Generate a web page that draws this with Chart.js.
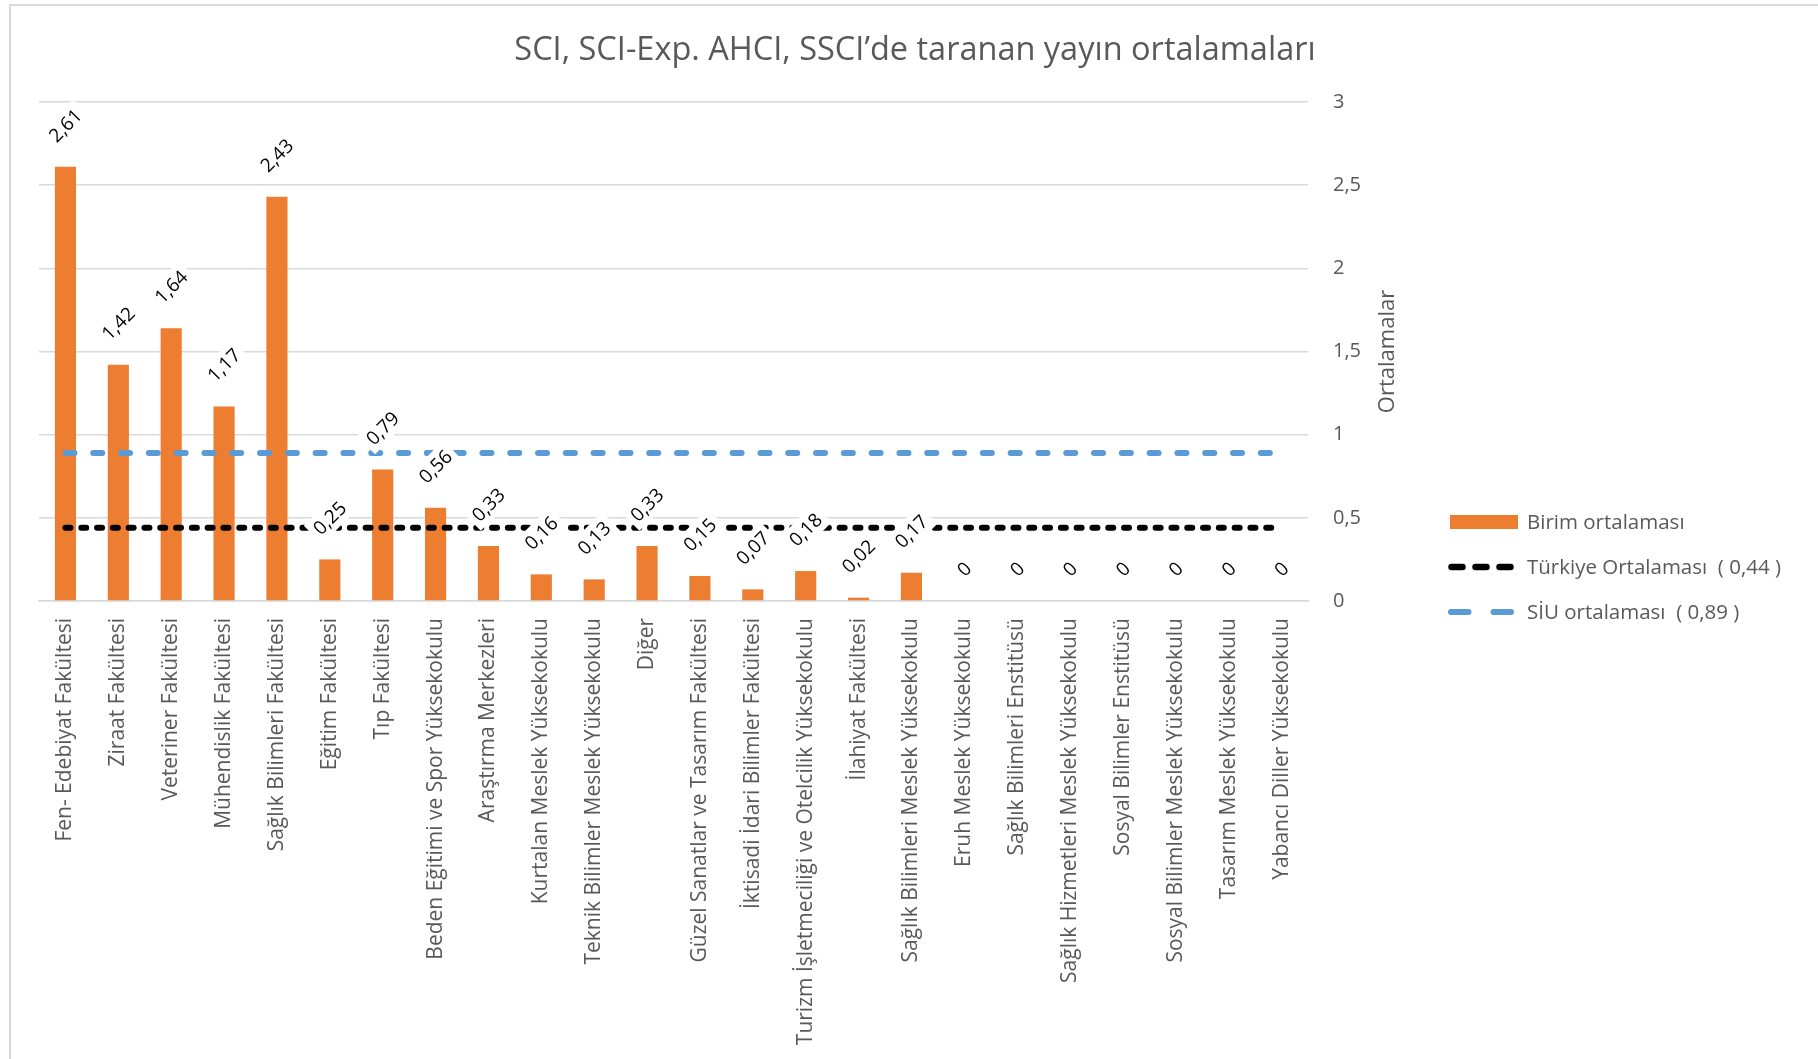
<!DOCTYPE html>
<html lang="tr">
<head>
<meta charset="utf-8">
<title>SCI, SCI-Exp. AHCI, SSCI’de taranan yayın ortalamaları</title>
<script src="https://cdn.jsdelivr.net/npm/chart.js@4.4.1/dist/chart.umd.min.js"></script>
<style>
  html, body { margin: 0; padding: 0; background: #fff; }
  #wrap { width: 1818px; height: 1059px; }
</style>
</head>
<body>
<div id="wrap"><canvas id="chart" width="1818" height="1059"></canvas></div>
<script>
const chartTitle = "SCI, SCI-Exp. AHCI, SSCI’de taranan yayın ortalamaları";
const axisTitle = "Ortalamalar";

const units = [
  "Fen- Edebiyat Fakültesi", "Ziraat Fakültesi", "Veteriner Fakültesi",
  "Mühendislik Fakültesi", "Sağlık Bilimleri Fakültesi", "Eğitim Fakültesi",
  "Tıp Fakültesi", "Beden Eğitimi ve Spor Yüksekokulu", "Araştırma Merkezleri",
  "Kurtalan Meslek Yüksekokulu", "Teknik Bilimler Meslek Yüksekokulu", "Diğer",
  "Güzel Sanatlar ve Tasarım Fakültesi", "İktisadi İdari Bilimler Fakültesi",
  "Turizm İşletmeciliği ve Otelcilik Yüksekokulu", "İlahiyat Fakültesi",
  "Sağlık Bilimleri Meslek Yüksekokulu", "Eruh Meslek Yüksekokulu",
  "Sağlık Bilimleri Enstitüsü", "Sağlık Hizmetleri Meslek Yüksekokulu",
  "Sosyal Bilimler Enstitüsü", "Sosyal Bilimler Meslek Yüksekokulu",
  "Tasarım Meslek Yüksekokulu", "Yabancı Diller Yüksekokulu"
];
const unitAverages = [2.61, 1.42, 1.64, 1.17, 2.43, 0.25, 0.79, 0.56, 0.33, 0.16, 0.13, 0.33,
  0.15, 0.07, 0.18, 0.02, 0.17, 0, 0, 0, 0, 0, 0, 0];
const turkeyAverage = [0.44, 0.44, 0.44, 0.44, 0.44, 0.44, 0.44, 0.44, 0.44, 0.44, 0.44, 0.44,
  0.44, 0.44, 0.44, 0.44, 0.44, 0.44, 0.44, 0.44, 0.44, 0.44, 0.44, 0.44];
const siuAverage = [0.89, 0.89, 0.89, 0.89, 0.89, 0.89, 0.89, 0.89, 0.89, 0.89, 0.89, 0.89,
  0.89, 0.89, 0.89, 0.89, 0.89, 0.89, 0.89, 0.89, 0.89, 0.89, 0.89, 0.89];
const yTicks = [0, 0.5, 1, 1.5, 2, 2.5, 3];
const seriesNames = ["Birim ortalaması", "Türkiye Ortalaması  ( 0,44 )", "SİU ortalaması  ( 0,89 )"];

const FONT = '"Open Sans", sans-serif';
const GREY = "#595959";
const ORANGE = "#ED7D31";
const BLUE = "#5B9BD5";

const fmt = v => String(v).replace(".", ",");

// title, frame, axis title, value labels and legend drawn on the canvas
const decor = {
  id: "decor",
  beforeDraw(chart) {
    const ctx = chart.ctx;
    ctx.save();
    ctx.strokeStyle = "#d9d9d9";
    ctx.lineWidth = 2;
    ctx.strokeRect(10, 5, 1830, 1080);
    ctx.restore();
  },
  afterDatasetsDraw(chart) {
    const ctx = chart.ctx;
    const meta = chart.getDatasetMeta(0);
    ctx.save();
    ctx.font = "19px " + FONT;
    meta.data.forEach((bar, i) => {
      const txt = fmt(unitAverages[i]);
      const w = ctx.measureText(txt).width;
      const cy = bar.y - (28 + w / 2 * 0.707);
      ctx.save();
      ctx.translate(bar.x, cy);
      ctx.rotate(-Math.PI / 4);
      ctx.fillStyle = "#fff";
      ctx.fillRect(-w / 2 - 5, -13, w + 10, 26);
      ctx.fillStyle = "#000";
      ctx.textAlign = "center";
      ctx.textBaseline = "middle";
      ctx.fillText(txt, 0, 1);
      ctx.restore();
    });
    ctx.restore();
  },
  afterDraw(chart) {
    const ctx = chart.ctx;
    ctx.save();
    ctx.fillStyle = GREY;
    ctx.textBaseline = "middle";

    ctx.font = "32.5px " + FONT;
    ctx.textAlign = "center";
    ctx.fillText(chartTitle, 915, 51);

    ctx.save();
    ctx.translate(1388, (chart.chartArea.top + chart.chartArea.bottom) / 2);
    ctx.rotate(-Math.PI / 2);
    ctx.font = "22px " + FONT;
    ctx.fillText(axisTitle, 0, 0);
    ctx.restore();

    // legend
    ctx.textAlign = "left";
    ctx.font = "20.5px " + FONT;
    const rows = [522, 567, 612];
    ctx.fillStyle = ORANGE;
    ctx.fillRect(1450, rows[0] - 7, 68, 14);
    ctx.lineCap = "round";
    ctx.lineWidth = 6.5;
    ctx.strokeStyle = "#000";
    ctx.setLineDash([11, 13]);
    ctx.beginPath(); ctx.moveTo(1451.5, rows[1]); ctx.lineTo(1512, rows[1]); ctx.stroke();
    ctx.strokeStyle = BLUE;
    ctx.lineWidth = 6;
    ctx.setLineDash([17.5, 25]);
    ctx.beginPath(); ctx.moveTo(1451, rows[2]); ctx.lineTo(1512, rows[2]); ctx.stroke();
    ctx.setLineDash([]);
    ctx.fillStyle = GREY;
    seriesNames.forEach((name, i) => ctx.fillText(name, 1527, rows[i] + 1));
    ctx.restore();
  }
};

function draw() {
  Chart.defaults.font.family = FONT;
  Chart.defaults.color = GREY;
  new Chart(document.getElementById("chart"), {
    type: "bar",
    data: {
      labels: units,
      datasets: [
        {
          type: "bar",
          label: seriesNames[0],
          data: unitAverages,
          backgroundColor: ORANGE,
          categoryPercentage: 1,
          barPercentage: 0.4,
          order: 3
        },
        {
          type: "line",
          label: seriesNames[1],
          data: turkeyAverage,
          borderColor: "#000",
          borderWidth: 6,
          borderDash: [5, 10.8],
          borderCapStyle: "round",
          pointRadius: 0,
          fill: false,
          order: 2
        },
        {
          type: "line",
          label: seriesNames[2],
          data: siuAverage,
          borderColor: BLUE,
          borderWidth: 6,
          borderDash: [9, 18.8],
          borderCapStyle: "round",
          pointRadius: 0,
          fill: false,
          order: 1
        }
      ]
    },
    options: {
      responsive: false,
      animation: false,
      layout: { padding: { left: 39, top: 102, right: 0, bottom: 0 } },
      plugins: {
        legend: { display: false },
        title: { display: false },
        tooltip: { enabled: false }
      },
      scales: {
        x: {
          grid: { display: false, drawTicks: false },
          border: { display: true, color: "#d9d9d9", width: 1.5 },
          ticks: {
            autoSkip: false, minRotation: 90, maxRotation: 90, padding: 17,
            font: { size: 21 }, color: GREY
          },
          afterFit: s => { s.height = 1059 - 601; }
        },
        y: {
          position: "right",
          min: 0,
          max: 3,
          grid: { color: "#d9d9d9", lineWidth: 1.5, drawTicks: false },
          border: { display: false },
          ticks: { padding: 25, font: { size: 20 }, color: GREY, callback: v => fmt(v) },
          afterBuildTicks: s => { s.ticks = yTicks.map(v => ({ value: v })); },
          afterFit: s => { s.width = 1818 - 1308; }
        }
      }
    },
    plugins: [decor]
  });
}

document.fonts.load('20px "Open Sans"').then(draw, draw);
</script>
</body>
</html>
